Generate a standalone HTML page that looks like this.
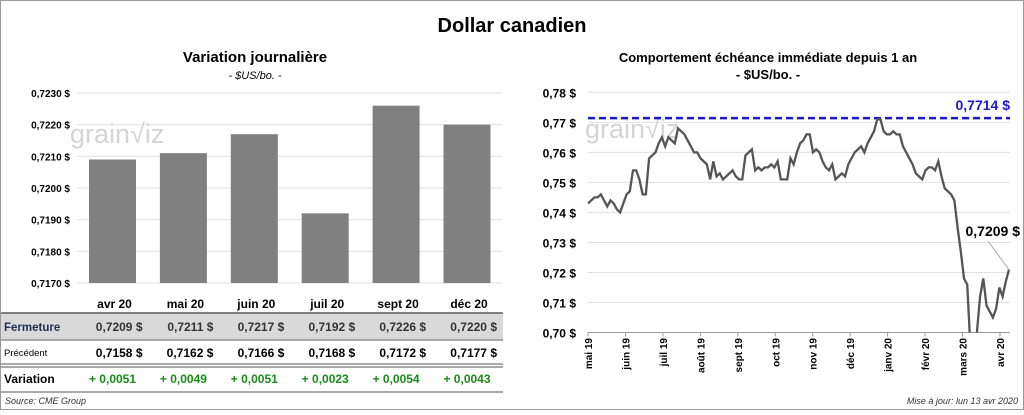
<!DOCTYPE html>
<html><head><meta charset="utf-8"><style>
body{margin:0;width:1024px;height:410px;background:#fff;font-family:"Liberation Sans",Arial,sans-serif;overflow:hidden}
svg text{font-family:"Liberation Sans",Arial,sans-serif}
</style></head><body>
<svg id="s" width="1024" height="410" viewBox="0 0 1024 410">
<rect x="0.5" y="0.5" width="1023" height="409" fill="#fff" stroke="#999"/>
<text x="512" y="32" text-anchor="middle" font-size="20" font-weight="bold">Dollar canadien</text>
<text x="255" y="62" text-anchor="middle" font-size="15" font-weight="bold">Variation  journalière</text>
<text x="255" y="79" text-anchor="middle" font-size="11" font-style="italic">- $US/bo. -</text>
<text x="768" y="62" text-anchor="middle" font-size="13" font-weight="bold">Comportement échéance immédiate depuis 1 an</text>
<text x="768" y="79" text-anchor="middle" font-size="13" font-weight="bold">- $US/bo. -</text>
<g id="left"></g><g id="right"></g><g id="table"></g>
<text x="5" y="404" font-size="9" font-style="italic" fill="#333">Source: CME Group</text>
<text x="1018" y="404" text-anchor="end" font-size="9" font-style="italic" fill="#333">Mise à jour: lun 13 avr 2020</text>
</svg>
<script>
const barCats=["avr 20","mai 20","juin 20","juil 20","sept 20","déc 20"];
const closeVals=[0.7209,0.7211,0.7217,0.7192,0.7226,0.7220];
const prevVals=[0.7158,0.7162,0.7166,0.7168,0.7172,0.7177];
const varVals=[0.0051,0.0049,0.0051,0.0023,0.0054,0.0043];
const leftTicks=[0.7170,0.7180,0.7190,0.7200,0.7210,0.7220,0.7230];
const lineVals=[0.743,0.744,0.745,0.745,0.746,0.744,0.742,0.744,0.743,0.741,0.740,
0.743,0.746,0.747,0.754,0.754,0.751,0.746,0.746,0.758,0.759,0.760,0.763,0.765,0.762,0.765,
0.764,0.763,0.768,0.767,0.766,0.764,0.762,0.760,0.760,0.758,
0.757,0.756,0.751,0.757,0.752,0.753,0.751,0.752,0.753,0.754,0.752,0.751,0.751,
0.759,0.760,0.761,0.754,0.755,0.754,0.755,0.755,0.756,0.755,0.757,
0.751,0.751,0.751,0.758,0.756,0.760,0.763,0.764,0.766,0.766,
0.760,0.761,0.760,0.757,0.755,0.754,0.756,0.751,0.752,0.753,0.752,
0.756,0.758,0.760,0.761,0.762,0.760,0.763,0.765,0.767,0.771,0.771,
0.767,0.766,0.766,0.767,0.766,0.766,0.762,0.760,0.758,0.756,
0.753,0.752,0.751,0.754,0.755,0.755,0.754,0.757,0.752,0.748,
0.747,0.746,0.744,0.735,0.727,0.718,0.716,0.695,0.690,0.700,0.712,0.718,0.709,0.707,0.705,
0.708,0.715,0.712,0.717,0.721];
const rightTicks=[0.70,0.71,0.72,0.73,0.74,0.75,0.76,0.77,0.78];
const monthLabels=["mai 19","juin 19","juil 19","août 19","sept 19","oct 19","nov 19","déc 19","janv 20","févr 20","mars 20","avr 20"];
const maxVal=0.7714, lastVal=0.7209;
const NS="http://www.w3.org/2000/svg";
function mk(p,tag,at,txt){const e=document.createElementNS(NS,tag);for(const k in at)e.setAttribute(k,at[k]);if(txt!==undefined)e.textContent=txt;p.appendChild(e);return e;}
const fmt=(v,d)=>v.toFixed(d).replace('.',',');
// left chart
const L=document.getElementById('left');
const ly=v=>93+(0.7230-v)/0.0010*31.67;
const lx=i=>112.5+i*70.9;
leftTicks.forEach(t=>{
 const g=mk(L,'line',{x1:77,x2:502,y1:ly(t),y2:ly(t),stroke:'#e0e0e0'});
 
 
 const tx=mk(L,'text',{x:70,y:ly(t)+4,'text-anchor':'end','font-size':10,'font-weight':'bold'},fmt(t,4)+' $');
 
 
});
const wm=mk(L,'text',{x:70,y:143,'font-size':27,fill:'#d4d4d4'},'grain\u221Aiz');


closeVals.forEach((v,i)=>{
 const b=mk(L,'rect',{x:lx(i)-23.5,y:ly(v),width:47,height:ly(0.7170)-ly(v),fill:'#808080'});
 
 
});
// table
const T=document.getElementById('table');
const r1=mk(T,'rect',{x:1,y:314,width:502,height:25,fill:'#d9d9d9'});


[[1,313,'#555',1.5],[1,340,'#555',1],[1,364,'#555',1],[1,367,'#555',1],[1,392,'#555',1]].forEach(a=>{
 const l=mk(T,'line',{x1:1,x2:503,y1:a[1],y2:a[1],stroke:a[2],'stroke-width':a[3]});
 
 
});
const h1=mk(T,'text',{x:4,y:331,'font-size':11.5,'font-weight':'bold',fill:'#1f2f50'},'Fermeture');


const h2=mk(T,'text',{x:4,y:356,'font-size':9.5},'Précédent');


const h3=mk(T,'text',{x:4,y:383,'font-size':12,'font-weight':'bold'},'Variation');


barCats.forEach((c,i)=>{
 const x=lx(i);
 const a=mk(T,'text',{x:x+2,y:308,'text-anchor':'middle','font-size':12,'font-weight':'bold'},c);
 
 
 const b=mk(T,'text',{x:x+30,y:331,'text-anchor':'end','font-size':12,'font-weight':'bold',fill:'#333'},fmt(closeVals[i],4)+'  $');
 
 
 const d=mk(T,'text',{x:x+30,y:357,'text-anchor':'end','font-size':12,'font-weight':'bold'},fmt(prevVals[i],4)+'  $');
 
 
 const e=mk(T,'text',{x:x,y:383,'text-anchor':'middle','font-size':12,'font-weight':'bold',fill:'#1a8a1a'},'+ '+fmt(varVals[i],4));
 
 
});
// right chart
const R=document.getElementById('right');
const ry=v=>92.3+(0.78-v)/0.01*30.03;
const x0=588,x1=1009;
const rx=i=>x0+i*(x1-x0)/(lineVals.length-1);
const mx=i=>588+i*37.45;
rightTicks.forEach(t=>{
 const g=mk(R,'line',{x1:588,x2:1010,y1:ry(t),y2:ry(t),stroke:'#e0e0e0'});
 
 
 const tx=mk(R,'text',{x:576,y:ry(t)+5,'text-anchor':'end','font-size':12,'font-weight':'bold'},fmt(t,2)+' $');
 
 
});
const ax=mk(R,'line',{x1:588,x2:1010,y1:ry(0.70),y2:ry(0.70),stroke:'#999'});


monthLabels.forEach((m,i)=>{
 const tk=mk(R,'line',{x1:mx(i),x2:mx(i),y1:ry(0.70),y2:ry(0.70)+4,stroke:'#999'});
 
 
 const t=mk(R,'text',{x:0,y:0,'font-size':10,'font-weight':'bold',transform:`translate(${mx(i)+4},338) rotate(-90)`,'text-anchor':'end'},m);
 
 
});
const wm2=mk(R,'text',{x:585,y:138,'font-size':27,fill:'#d4d4d4'},'grain\u221Aiz');


const cp=mk(R,'clipPath',{id:'cp'});mk(cp,'rect',{x:580,y:80,width:440,height:ry(0.70)-80});
const ml=mk(R,'line',{x1:588,x2:1010,y1:ry(maxVal),y2:ry(maxVal),stroke:'#1a1acc','stroke-width':2.5,'stroke-dasharray':'7,4'});


const mt=mk(R,'text',{x:1010,y:ry(maxVal)-8,'text-anchor':'end','font-size':14,'font-weight':'bold',fill:'#1a1acc'},fmt(maxVal,4)+' $');


const pl=mk(R,'polyline',{points:lineVals.map((v,i)=>rx(i)+','+ry(v)).join(' '),fill:'none',stroke:'#555','stroke-width':2.3,'clip-path':'url(#cp)'});


const lastX=rx(lineVals.length-1);
const ll=mk(R,'line',{x1:lastX,y1:ry(lastVal),x2:988,y2:241,stroke:'#aaa'});


const lt=mk(R,'text',{x:1020,y:236,'text-anchor':'end','font-size':14,'font-weight':'bold'},fmt(lastVal,4)+' $');


</script>
</body></html>
